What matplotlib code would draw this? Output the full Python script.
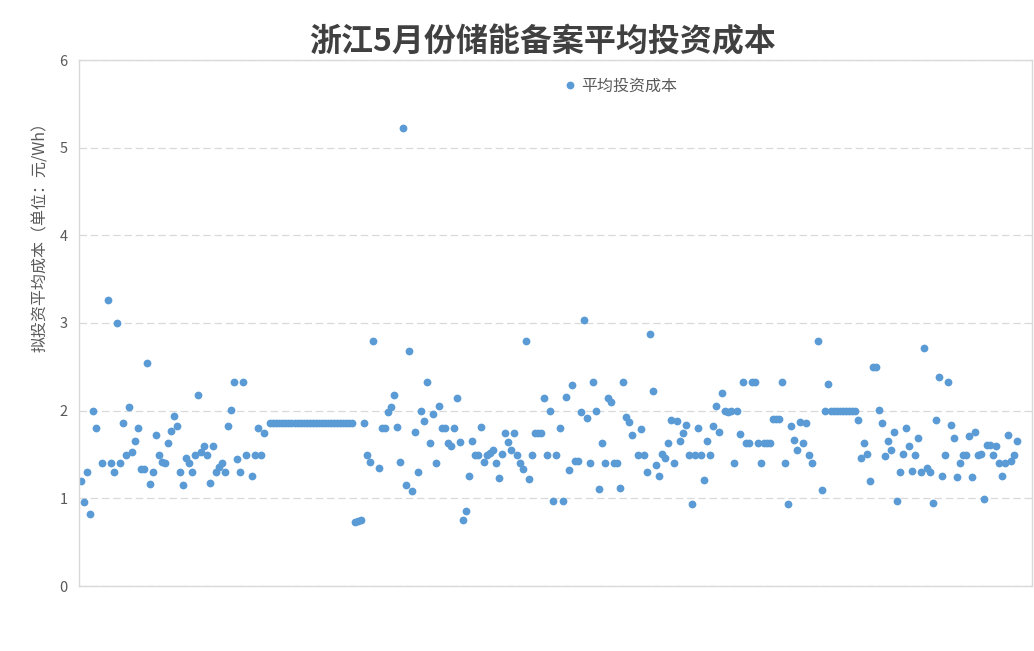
import numpy as np
import matplotlib
matplotlib.use('Agg')
import matplotlib.pyplot as plt

plt.rcParams['font.family'] = ['Noto Sans CJK SC', 'DejaVu Sans']
plt.rcParams['axes.unicode_minus'] = False

# 图上读出的各项目平均投资成本（元/Wh），None = 该序号没有数据点
cost = [
    1.20, 0.96, 1.30, 0.82, 2.00, 1.80, None, 1.40, None, 3.26,
    1.40, 1.30, 3.00, 1.40, 1.86, 1.49, 2.04, 1.53, 1.65, 1.80,
    1.34, 1.34, 2.54, 1.16, 1.30, 1.72, 1.49, 1.42, 1.40, 1.63,
    1.77, 1.94, 1.83, 1.30, 1.15, 1.46, 1.40, 1.30, 1.50, 2.18,
    1.53, 1.60, 1.50, 1.18, 1.60, 1.30, 1.36, 1.40, 1.30, 1.83,
    2.01, 2.33, 1.45, 1.30, 2.33, 1.49, None, 1.25, 1.50, 1.80,
    1.50, 1.75, None, 1.86, 1.86, 1.86, 1.86, 1.86, 1.86, 1.86,
    1.86, 1.86, 1.86, 1.86, 1.86, 1.86, 1.86, 1.86, 1.86, 1.86,
    1.86, 1.86, 1.86, 1.86, 1.86, 1.86, 1.86, 1.86, 1.86, 1.86,
    1.86, 0.73, 0.74, 0.75, 1.86, 1.50, 1.42, 2.79, None, 1.35,
    1.80, 1.80, 1.98, 2.04, 2.18, 1.81, 1.41, 5.22, 1.15, 2.68,
    1.08, 1.76, 1.30, 2.00, 1.88, 2.33, 1.63, 1.96, 1.40, 2.05,
    1.80, 1.80, 1.63, 1.60, 1.80, 2.15, 1.64, 0.75, 0.86, 1.25,
    1.65, 1.50, 1.50, 1.81, 1.41, 1.50, 1.52, 1.55, 1.40, 1.23,
    1.51, 1.75, 1.64, 1.55, 1.74, 1.50, 1.40, 1.33, 2.80, 1.22,
    1.50, 1.75, 1.75, 1.75, 2.15, 1.50, 2.00, 0.97, 1.50, 1.80,
    0.97, 2.16, 1.32, 2.29, 1.43, 1.43, 1.98, 3.03, 1.92, 1.40,
    2.33, 2.00, 1.11, 1.63, 1.40, 2.14, 2.10, 1.40, 1.40, 1.12,
    2.33, 1.93, 1.87, 1.72, None, 1.49, 1.79, 1.49, 1.30, 2.88,
    2.23, 1.38, 1.25, 1.51, 1.46, 1.63, 1.89, 1.40, 1.88, 1.65,
    1.75, 1.84, 1.50, 0.93, 1.49, 1.80, 1.50, 1.21, 1.65, 1.50,
    1.83, 2.05, 1.76, 2.20, 2.00, 1.98, 2.00, 1.40, 2.00, 1.73,
    2.33, 1.63, 1.63, 2.33, 2.33, 1.63, 1.40, 1.63, 1.63, 1.63,
    1.90, 1.91, 1.91, 2.33, 1.40, 0.93, 1.82, 1.66, 1.55, 1.87,
    1.63, 1.86, 1.49, 1.40, None, 2.80, 1.10, 2.00, 2.30, 2.00,
    2.00, 2.00, 2.00, 2.00, 2.00, 2.00, 2.00, 2.00, 1.89, 1.46,
    1.63, 1.51, 1.20, 2.50, 2.50, 2.01, 1.86, 1.48, 1.65, 1.55,
    1.76, 0.97, 1.30, 1.51, 1.80, 1.60, 1.31, 1.50, 1.69, 1.30,
    2.72, 1.35, 1.30, 0.95, 1.89, 2.38, 1.26, 1.49, 2.33, 1.84,
    1.69, 1.24, 1.40, 1.49, 1.50, 1.71, 1.24, 1.76, 1.50, 1.51,
    0.99, 1.61, 1.61, 1.49, 1.60, 1.40, 1.26, 1.40, 1.72, 1.43,
    1.50, 1.65,
]
y_ticks = [0, 1, 2, 3, 4, 5, 6]

y = np.array([np.nan if v is None else v for v in cost], dtype=float)
x = np.arange(len(y))

blue = '#5B9BD5'
grey_line = '#D9D9D9'
grey_text = '#595959'

fig = plt.figure(figsize=(10.34, 6.51), dpi=100)
ax = fig.add_axes([78.5 / 1034, 65 / 651, 953.5 / 1034, 526 / 651])

ax.plot(x, y, linestyle='none', marker='o', markersize=5.6,
        color=blue, markeredgewidth=0, label='平均投资成本')

ax.set_xlim(-0.73, 315.9)
ax.set_ylim(0, 6)
ax.set_yticks(y_ticks)
ax.set_yticklabels([str(t) for t in y_ticks])
ax.set_xticks([])
ax.tick_params(axis='y', length=0, pad=8, labelsize=10.5, labelcolor=grey_text)

ax.grid(axis='y', color=grey_line, linestyle=(0, (6, 3)), linewidth=0.9)
ax.set_axisbelow(True)
for s in ax.spines.values():
    s.set_color(grey_line)
    s.set_linewidth(1.0)

ax.set_ylabel('拟投资平均成本（单位：元/Wh）', fontsize=11.5, color=grey_text)
ax.yaxis.set_label_coords(-0.031, 0.672)

fig.text(543 / 1034, 1 - 42 / 651, '浙江5月份储能备案平均投资成本',
         ha='center', va='center', fontsize=23, fontweight='bold',
         color='#404040')

leg = ax.legend(loc='center left', bbox_to_anchor=(0.499, 0.951), frameon=False,
                fontsize=11.5, handletextpad=0.1, handlelength=1.2,
                borderaxespad=0)
for t in leg.get_texts():
    t.set_color(grey_text)

fig.savefig('out.png', dpi=100)
